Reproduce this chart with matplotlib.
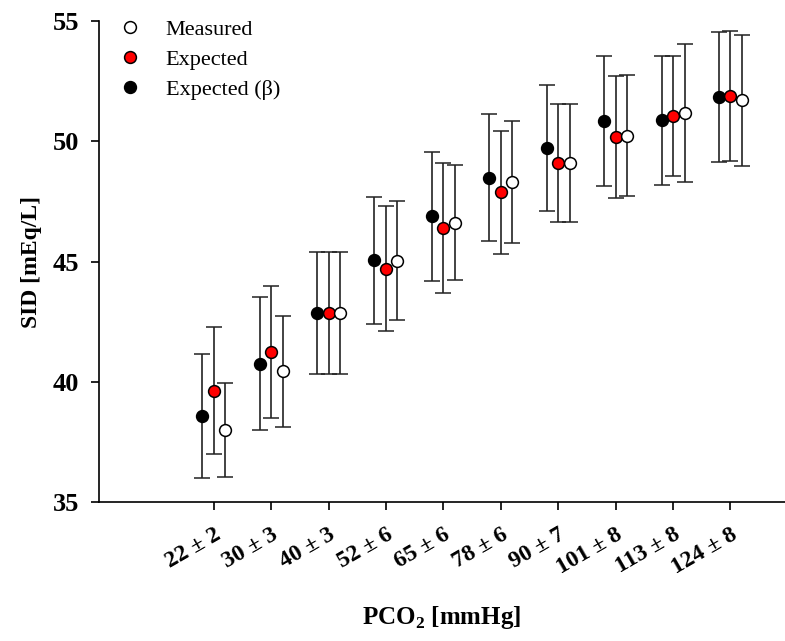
import numpy as np
import matplotlib.pyplot as plt

plt.rcParams['font.family'] = ['Liberation Serif', 'DejaVu Serif']
plt.rcParams['mathtext.fontset'] = 'custom'
plt.rcParams['mathtext.rm'] = 'Liberation Serif'
plt.rcParams['mathtext.bf'] = 'Liberation Serif:bold'

# PCO2 groups
pco2_labels = ['22 ± 2', '30 ± 3', '40 ± 3', '52 ± 6', '65 ± 6',
               '78 ± 6', '90 ± 7', '101 ± 8', '113 ± 8', '124 ± 8']

# SID values (mEq/L) and SD
measured = [37.99, 40.43, 42.87, 45.03, 46.62, 48.32, 49.10, 50.23, 51.17, 51.70]
measured_sd = [1.97, 2.32, 2.54, 2.48, 2.40, 2.53, 2.47, 2.52, 2.88, 2.74]
expected = [39.63, 41.24, 42.87, 44.70, 46.40, 47.88, 49.10, 50.18, 51.06, 51.90]
expected_sd = [2.65, 2.75, 2.54, 2.60, 2.71, 2.56, 2.45, 2.54, 2.50, 2.70]
expected_b = [38.58, 40.75, 42.87, 45.06, 46.88, 48.49, 49.73, 50.86, 50.87, 51.84]
expected_b_sd = [2.59, 2.77, 2.54, 2.64, 2.68, 2.63, 2.61, 2.70, 2.70, 2.70]

x = np.arange(1, len(pco2_labels) + 1)
off = 0.2

fig = plt.figure(figsize=(7.85, 6.41), dpi=100)
ax = fig.add_axes([0.126, 0.217, 0.874, 0.75])

ekw = dict(ecolor='#222222', elinewidth=1.2, capsize=5.5, capthick=1.2, linestyle='none',
           markersize=8.5, markeredgecolor='black', markeredgewidth=1.1)

hb = ax.errorbar(x - off, expected_b, yerr=expected_b_sd, fmt='o', markerfacecolor='black', **ekw)
hr = ax.errorbar(x, expected, yerr=expected_sd, fmt='o', markerfacecolor='red', **ekw)
hm = ax.errorbar(x + off, measured, yerr=measured_sd, fmt='o', markerfacecolor='white', **ekw)

ax.set_xlim(-1.0, 10.95)
ax.set_ylim(35, 55)
ax.set_yticks([35, 40, 45, 50, 55])
ax.set_xticks(x)
ax.set_xticklabels(pco2_labels, rotation=30, ha='right', va='top', rotation_mode='anchor',
                   fontsize=17, fontweight='bold')
ax.tick_params(axis='y', labelsize=19, direction='out', length=6, width=1.2, pad=8)
ax.tick_params(axis='x', direction='out', length=6, width=1.2, pad=10)
for lab in ax.get_yticklabels():
    lab.set_fontweight('bold')

ax.spines['top'].set_visible(False)
ax.spines['right'].set_visible(False)
ax.spines['left'].set_linewidth(1.2)
ax.spines['bottom'].set_linewidth(1.2)

ax.set_ylabel('SID [mEq/L]', fontsize=17, fontweight='bold')
ax.yaxis.set_label_coords(-0.083, 0.5)
ax.set_xlabel(r'PCO$_{\mathbf{2}}$ [mmHg]', fontsize=18, fontweight='bold')
ax.xaxis.set_label_coords(0.5, -0.212)

leg = ax.legend([hm[0], hr[0], hb[0]], ['Measured', 'Expected', 'Expected (β)'],
                loc='upper left', bbox_to_anchor=(0.0, 1.045), frameon=False,
                fontsize=16, handletextpad=1.1, labelspacing=0.42, handlelength=1.0)

fig.savefig('out.png', dpi=100)
